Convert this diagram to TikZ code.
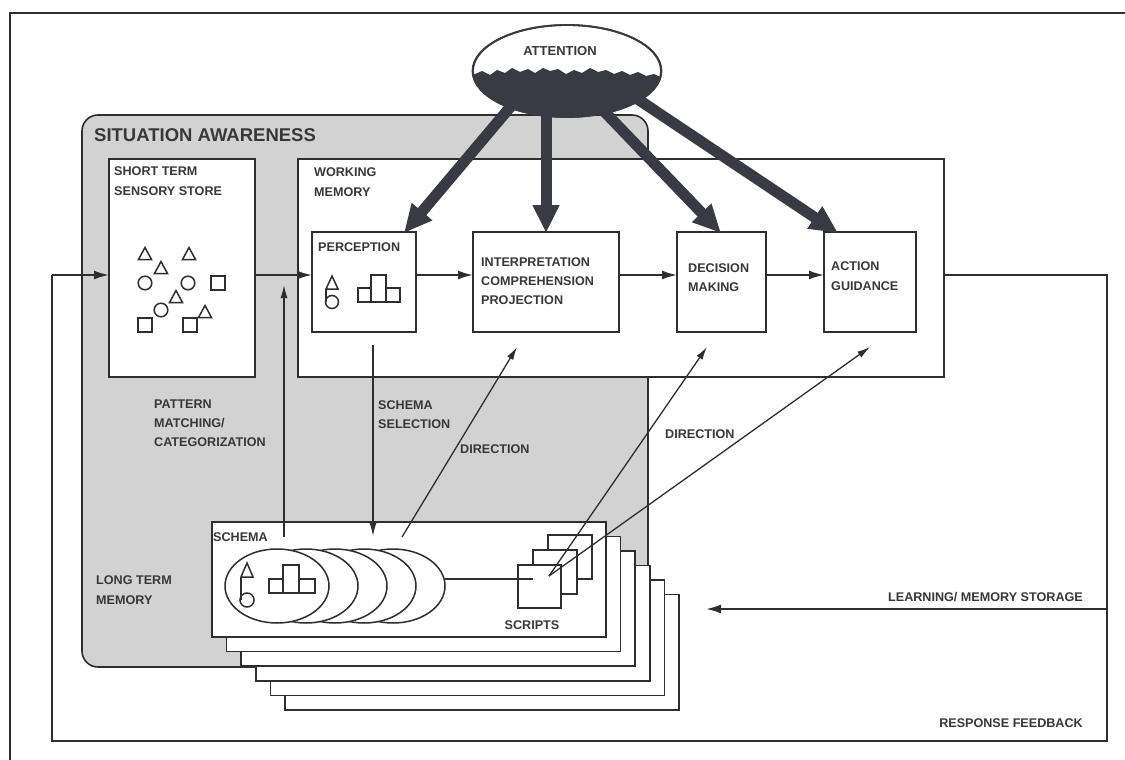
\documentclass[tikz,border=0pt]{standalone}
\usepackage{fontspec}
\setmainfont{Liberation Sans}
\usetikzlibrary{arrows.meta,shapes.geometric,calc}
\definecolor{ink}{HTML}{2E2E2E}
\definecolor{txt}{HTML}{383838}
\definecolor{sagray}{HTML}{D2D2D2}
\definecolor{attdark}{HTML}{3A3A44}
\begin{document}
\begin{tikzpicture}[x=1pt,y=-1pt,
  box/.style={draw=ink, line width=1.6pt, fill=white, outer sep=0pt, inner sep=0pt, anchor=north west},
  card/.style={draw=ink, line width=1.5pt, fill=white},
  lbl/.style={text=txt, font=\fontsize{12.6}{19.5}\selectfont\bfseries, inner sep=0pt, align=left},
  flow/.style={draw=ink, line width=2pt, -{Latex[length=15pt,width=9pt]}},
  fline/.style={draw=ink, line width=1.6pt},
  dir/.style={draw=ink, line width=1.3pt, -{Latex[length=13pt,width=7pt]}},
  big/.style={draw=attdark, line width=11pt, -{Triangle[length=28pt,width=25pt]}},
  glyph/.style={draw=ink, line width=1.5pt},
  tri/.pic={\draw[glyph] (-6.5,5.5) -- (0,-6.5) -- (6.5,5.5) -- cycle;},
  cir/.pic={\draw[glyph] (0,0) circle[radius=6.8pt];},
  sqr/.pic={\draw[glyph] (-6.8,-6.8) rectangle (6.8,6.8);}
]
\fill[white] (0,0) rectangle (1125,760);
\useasboundingbox (0,0) rectangle (1125,760);
% outer frame
\draw[ink, line width=1.8pt] (10,762) -- (10,13) -- (1127,13);

% feedback loop
\coordinate (fbout) at (944,275);
\coordinate (fbr) at (1107,275);
\coordinate (fbrb) at (1107,741);
\coordinate (fblb) at (52,741);
\coordinate (fbin) at (52,275);
\draw[fline] (fbout) -- (fbr) -- (fbrb) -- (fblb) -- (fbin);

% situation awareness
\draw[draw=ink, line width=1.6pt, fill=sagray, rounded corners=16pt] (82,115) rectangle (648,667);

% boxes
\node[box, minimum width=146pt, minimum height=218pt] (sss) at (109,159) {};
\node[box, minimum width=646pt, minimum height=218pt] (wm) at (298,159) {};
\node[box, minimum width=104pt, minimum height=100pt] (perc) at (312,232) {};
\node[box, minimum width=146pt, minimum height=100pt] (interp) at (473,232) {};
\node[box, minimum width=89pt, minimum height=100pt] (dec) at (677,232) {};
\node[box, minimum width=92pt, minimum height=100pt] (act) at (824,232) {};

% sensory store shapes
\foreach \p in {(145,254),(189,254),(161,268),(176,297),(205,312)} \pic at \p {tri};
\foreach \p in {(145,283),(188,283),(161,310)} \pic at \p {cir};
\foreach \p in {(218,283),(145,325),(190,325)} \pic at \p {sqr};

% perception glyphs
\draw[glyph] (326,289) -- (332,276) -- (338,289) -- cycle;
\draw[glyph] (326,289) -- (326,302);
\draw[glyph] (332,302) circle[radius=6.5pt];
\draw[glyph] (358,288) rectangle (371,302);
\draw[glyph] (371,275) rectangle (386,302);
\draw[glyph] (386,288) rectangle (400,302);

% long term memory cards
\foreach \i in {5,4,3,2,1,0}{
  \draw[card] ({212+14.6*\i},{522+14.5*\i}) rectangle ({606+14.6*\i},{637+14.6*\i});
}
% schema ellipses
\foreach \i in {4,3,2,1,0}{
  \draw[glyph, fill=white] ({277+29*\i},586) ellipse[x radius=52pt, y radius=37pt];
}
\draw[glyph] (241,577) -- (247,563) -- (253,577) -- cycle;
\draw[glyph] (241,577) -- (241,600);
\draw[glyph] (247,600) circle[radius=7pt];
\draw[glyph] (269,579) rectangle (283,593);
\draw[glyph] (283,565) rectangle (299,593);
\draw[glyph] (299,579) rectangle (315,593);
% scripts
\node[card, minimum size=44pt, anchor=north west, inner sep=0pt, outer sep=0pt] (scr3) at (548,535) {};
\node[card, minimum size=44pt, anchor=north west, inner sep=0pt, outer sep=0pt] (scr2) at (533,550) {};
\node[card, minimum size=43pt, anchor=north west, inner sep=0pt, outer sep=0pt] (scr1) at (518,565) {};
\coordinate (ellend) at (445,579);
\coordinate (scrin) at (533,579);
\draw[glyph] (ellend) -- (scrin);

% thin arrows
\coordinate (pmA) at (284,537);
\coordinate (pmB) at (284,285);
\draw[dir] (pmA) -- (pmB);
\coordinate (ssA) at (373,345);
\coordinate (ssB) at (373,536);
\draw[dir] (ssA) -- (ssB);
\coordinate (d1A) at (402,537);
\coordinate (d1B) at (517,347);
\draw[dir] (d1A) -- (d1B);
\coordinate (scrout) at (549,576);
\coordinate (d2B) at (707,347);
\coordinate (d3B) at (870,347);
\draw[dir] (scrout) -- (d2B);
\draw[dir] (scrout) -- (d3B);
\coordinate (lmA) at (1107,609);
\coordinate (lmB) at (706,609);
\draw[flow] (lmA) -- (lmB);

% flow arrows
\draw[flow] (fbin) -- (sss.west |- fbin);
\draw[flow] (sss.east |- fbin) -- (perc.west |- fbin);
\draw[flow] (perc.east |- fbin) -- (interp.west |- fbin);
\draw[flow] (interp.east |- fbin) -- (dec.west |- fbin);
\draw[flow] (dec.east |- fbin) -- (act.west |- fbin);

% attention arrows
\coordinate (a1) at (512,105);
\coordinate (a2) at (546,105);
\coordinate (a3) at (598,105);
\coordinate (a4) at (636,98);
\draw[big] (a1) -- (404,233);
\draw[big] (a2) -- (546,233);
\draw[big] (a3) -- (721,233);
\draw[big] (a4) -- (838,233);

% attention ellipse
\node[ellipse, draw=attdark, line width=1.8pt, fill=white, minimum width=189pt, minimum height=92pt, inner sep=0pt] (att) at (567,71) {};
\begin{scope}
  \clip (567,71) ellipse[x radius=94pt, y radius=46pt];
  \fill[attdark] (460,77) -- (475,74) -- (482,71) -- (490,75) -- (497,70) -- (505,73) -- (512,68) -- (520,72)
    -- (528,69) -- (535,73) -- (543,68) -- (550,71) -- (558,69) -- (566,74) -- (574,70) -- (582,73)
    -- (590,68) -- (598,72) -- (606,70) -- (614,74) -- (622,71) -- (630,75) -- (638,72) -- (646,76)
    -- (654,74) -- (662,78) -- (675,79) -- (675,130) -- (460,130) -- cycle;
\end{scope}
\draw[attdark, line width=1.8pt] (att.center) ellipse[x radius=94pt, y radius=46pt];
\node[text=txt, font=\fontsize{13}{16}\selectfont\bfseries, inner sep=0pt] (attl) at (560,51) {ATTENTION};

% labels
\node[lbl, font=\fontsize{18.5}{22}\selectfont\bfseries, anchor=north west] (lsa) at (94,128) {SITUATION AWARENESS};
\node[lbl, anchor=north west] (lsss) at (114,167) {SHORT TERM\\SENSORY STORE};
\node[lbl, anchor=north west] (lwm) at (314,168) {WORKING\\MEMORY};
\node[lbl, anchor=north west] (lperc) at (318,243) {PERCEPTION};
\node[lbl, anchor=north west, font=\fontsize{12.6}{19}\selectfont\bfseries] (linterp) at (481,258) {INTERPRETATION\\COMPREHENSION\\PROJECTION};
\node[lbl, anchor=north west] (ldec) at (688,263) {DECISION\\MAKING};
\node[lbl, anchor=north west] (lact) at (831,262) {ACTION\\GUIDANCE};
\node[lbl, anchor=north west, font=\fontsize{12.6}{19}\selectfont\bfseries] (lpm) at (154,400) {PATTERN\\MATCHING/\\CATEGORIZATION};
\node[lbl, anchor=north west, font=\fontsize{12.6}{19}\selectfont\bfseries] (lss) at (378,400) {SCHEMA\\SELECTION};
\node[lbl, anchor=north west] (ld1) at (460,444) {DIRECTION};
\node[lbl, anchor=north west] (ld2) at (665,429) {DIRECTION};
\node[lbl, anchor=north west] (lsch) at (213,532) {SCHEMA};
\node[lbl, anchor=north] (lscr) at (532,620) {SCRIPTS};
\node[lbl, anchor=north west, font=\fontsize{12.6}{20}\selectfont\bfseries] (lltm) at (96,575) {LONG TERM\\MEMORY};
\node[lbl, anchor=north east] (llm) at (1083,592) {LEARNING/ MEMORY STORAGE};
\node[lbl, anchor=north east] (lrf) at (1083,718) {RESPONSE FEEDBACK};
\end{tikzpicture}
\end{document}
